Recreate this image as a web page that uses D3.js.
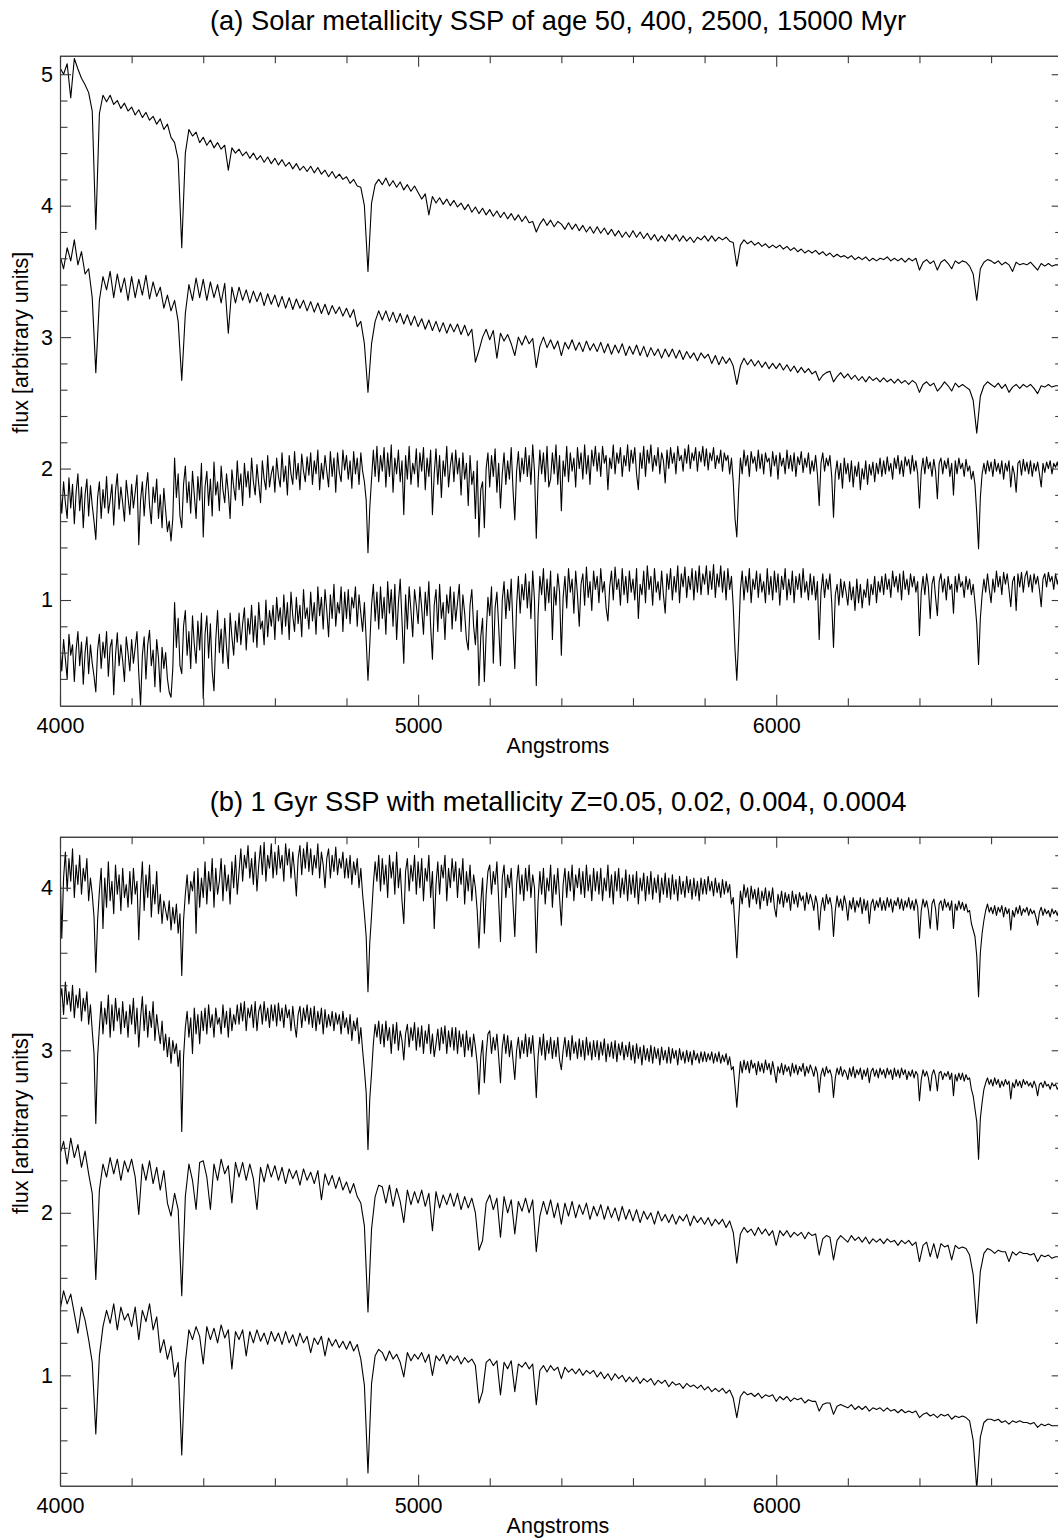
<!DOCTYPE html>
<html>
<head>
<meta charset="utf-8">
<script src="https://cdn.jsdelivr.net/npm/d3@7"></script>
<style>
  body { margin: 0; background: #fff; }
  text { font-family: "Liberation Sans", Arial, Helvetica, sans-serif; }
</style>
</head>
<body>
<div id="chart"></div>
<script>
// spectra; smooth ones every 10 A (one row = 100 A),
// the noisy ones every 5 A (one row = 100 A, 20 values)

// panel (a): solar metallicity, ages 50, 400, 2500, 15000 Myr
const fluxAge50 = [
  5.05, 5.00, 5.08, 4.82, 5.12, 5.04, 4.97, 4.92, 4.86, 4.72,
  3.82, 4.70, 4.84, 4.79, 4.84, 4.77, 4.80, 4.74, 4.78, 4.72,
  4.75, 4.69, 4.73, 4.67, 4.71, 4.65, 4.68, 4.62, 4.66, 4.58,
  4.62, 4.52, 4.48, 4.35, 3.68, 4.40, 4.58, 4.53, 4.56, 4.48,
  4.52, 4.46, 4.50, 4.44, 4.48, 4.43, 4.46, 4.27, 4.44, 4.40,
  4.43, 4.38, 4.41, 4.36, 4.40, 4.35, 4.38, 4.33, 4.37, 4.32,
  4.36, 4.31, 4.35, 4.30, 4.33, 4.28, 4.32, 4.27, 4.30, 4.26,
  4.30, 4.25, 4.29, 4.24, 4.27, 4.22, 4.26, 4.21, 4.24, 4.20,
  4.22, 4.17, 4.20, 4.15, 4.14, 4.00, 3.50, 4.02, 4.16, 4.20,
  4.16, 4.21, 4.15, 4.19, 4.14, 4.18, 4.12, 4.16, 4.11, 4.15,
  4.10, 4.05, 4.09, 3.93, 4.07, 4.02, 4.06, 4.01, 4.05, 4.00,
  4.04, 3.99, 4.02, 3.97, 4.01, 3.95, 3.99, 3.94, 3.98, 3.93,
  3.97, 3.92, 3.96, 3.91, 3.95, 3.90, 3.94, 3.89, 3.93, 3.88,
  3.92, 3.87, 3.88, 3.80, 3.86, 3.90, 3.85, 3.89, 3.84, 3.88,
  3.86, 3.82, 3.87, 3.82, 3.86, 3.81, 3.85, 3.80, 3.84, 3.79,
  3.84, 3.79, 3.83, 3.78, 3.82, 3.77, 3.81, 3.76, 3.80, 3.76,
  3.81, 3.76, 3.80, 3.75, 3.79, 3.74, 3.78, 3.73, 3.77, 3.73,
  3.78, 3.74, 3.78, 3.73, 3.77, 3.73, 3.76, 3.72, 3.76, 3.74,
  3.77, 3.73, 3.77, 3.73, 3.76, 3.74, 3.76, 3.73, 3.72, 3.54,
  3.70, 3.74, 3.71, 3.73, 3.70, 3.72, 3.69, 3.71, 3.68, 3.70,
  3.68, 3.70, 3.67, 3.69, 3.66, 3.68, 3.65, 3.67, 3.64, 3.66,
  3.64, 3.66, 3.63, 3.65, 3.62, 3.64, 3.61, 3.63, 3.61, 3.62,
  3.60, 3.62, 3.59, 3.61, 3.59, 3.61, 3.58, 3.60, 3.58, 3.60,
  3.59, 3.61, 3.58, 3.60, 3.58, 3.60, 3.57, 3.60, 3.58, 3.60,
  3.51, 3.57, 3.59, 3.56, 3.58, 3.51, 3.57, 3.59, 3.56, 3.52,
  3.58, 3.56, 3.58, 3.57, 3.54, 3.48, 3.28, 3.52, 3.57, 3.59,
  3.58, 3.56, 3.58, 3.55, 3.57, 3.55, 3.50, 3.57, 3.55, 3.56,
  3.55, 3.57, 3.54, 3.51, 3.56, 3.54, 3.56, 3.54, 3.55, 3.55
];

const fluxAge400 = [
  3.62, 3.52, 3.68, 3.58, 3.74, 3.55, 3.65, 3.48, 3.52, 3.30,
  2.73, 3.28, 3.46, 3.36, 3.50, 3.30, 3.48, 3.34, 3.45, 3.28,
  3.46, 3.30, 3.44, 3.32, 3.47, 3.29, 3.42, 3.31, 3.38, 3.22,
  3.32, 3.20, 3.28, 3.12, 2.67, 3.18, 3.40, 3.28, 3.45, 3.30,
  3.44, 3.28, 3.42, 3.30, 3.40, 3.26, 3.41, 3.03, 3.38, 3.26,
  3.38, 3.28, 3.36, 3.26, 3.35, 3.27, 3.34, 3.24, 3.33, 3.25,
  3.32, 3.23, 3.31, 3.22, 3.30, 3.21, 3.29, 3.22, 3.28, 3.20,
  3.27, 3.19, 3.26, 3.18, 3.25, 3.17, 3.24, 3.18, 3.23, 3.16,
  3.22, 3.15, 3.21, 3.08, 3.12, 2.95, 2.58, 2.95, 3.12, 3.20,
  3.13, 3.20, 3.12, 3.19, 3.11, 3.18, 3.10, 3.17, 3.09, 3.16,
  3.08, 3.14, 3.06, 3.13, 3.05, 3.12, 3.04, 3.11, 3.03, 3.10,
  3.04, 3.10, 3.02, 3.09, 3.01, 3.06, 2.81, 2.90, 3.00, 3.06,
  2.98, 3.05, 2.84, 3.03, 2.97, 3.02, 2.95, 2.86, 3.00, 2.94,
  3.01, 2.95, 2.99, 2.77, 2.93, 3.00, 2.92, 2.98, 2.91, 2.97,
  2.86, 2.96, 2.91, 2.98, 2.90, 2.96, 2.89, 2.97, 2.90, 2.95,
  2.89, 2.96, 2.88, 2.95, 2.87, 2.94, 2.88, 2.95, 2.86, 2.93,
  2.87, 2.94, 2.86, 2.93, 2.85, 2.92, 2.86, 2.91, 2.84, 2.91,
  2.85, 2.91, 2.84, 2.90, 2.83, 2.89, 2.84, 2.88, 2.82, 2.88,
  2.84, 2.87, 2.80, 2.86, 2.79, 2.85, 2.80, 2.84, 2.78, 2.64,
  2.78, 2.84, 2.79, 2.83, 2.78, 2.82, 2.77, 2.81, 2.76, 2.80,
  2.76, 2.80, 2.75, 2.79, 2.74, 2.78, 2.73, 2.77, 2.73, 2.76,
  2.72, 2.74, 2.67, 2.71, 2.73, 2.74, 2.66, 2.70, 2.73, 2.69,
  2.72, 2.68, 2.71, 2.67, 2.70, 2.66, 2.70, 2.67, 2.69, 2.66,
  2.69, 2.66, 2.68, 2.65, 2.68, 2.65, 2.67, 2.64, 2.67, 2.65,
  2.58, 2.64, 2.66, 2.63, 2.65, 2.59, 2.62, 2.66, 2.63, 2.59,
  2.65, 2.62, 2.64, 2.62, 2.60, 2.52, 2.27, 2.55, 2.63, 2.66,
  2.64, 2.62, 2.65, 2.61, 2.64, 2.58, 2.62, 2.64, 2.61, 2.64,
  2.62, 2.64, 2.61, 2.57, 2.63, 2.62, 2.64, 2.62, 2.63, 2.63
];

const fluxAge2500 = [
  1.84, 1.66, 1.90, 1.74, 1.62, 1.93, 1.70, 1.88, 1.58, 1.82, 1.96, 1.68, 1.86, 1.55, 1.80, 1.92, 1.64, 1.87, 1.72, 1.60,
  1.46, 1.78, 1.90, 1.62, 1.84, 1.70, 1.94, 1.66, 1.76, 1.88, 1.57, 1.83, 1.96, 1.69, 1.86, 1.74, 1.60, 1.91, 1.78, 1.65,
  1.88, 1.70, 1.82, 1.95, 1.42, 1.76, 1.90, 1.64, 1.84, 1.97, 1.72, 1.58, 1.86, 1.74, 1.92, 1.62, 1.80, 1.55, 1.85, 1.68,
  1.52, 1.60, 1.45, 1.62, 2.08, 1.78, 1.96, 1.64, 1.55, 1.88, 2.02, 1.74, 1.90, 1.66, 1.98, 1.80, 1.62, 1.94, 1.76, 2.04,
  1.48, 1.86, 1.98, 1.72, 1.92, 1.64, 2.05, 1.80, 1.90, 1.68, 2.02, 1.84, 1.74, 1.96, 1.82, 1.62, 1.99, 1.86, 1.76, 2.06,
  1.84, 1.96, 1.72, 2.04, 1.86, 1.98, 1.78, 2.08, 1.90, 1.80, 2.03, 1.88, 1.74, 2.06, 1.92, 1.84, 2.10, 1.86, 1.96, 2.02,
  1.82, 2.08, 1.94, 1.86, 2.12, 1.90, 2.02, 1.80, 2.10, 1.96, 1.88, 2.13, 1.92, 2.04, 1.84, 2.11, 1.98, 1.90, 2.09, 1.95,
  2.12, 1.88, 2.06, 1.96, 2.14, 1.84, 2.04, 1.92, 2.10, 1.98, 1.86, 2.13, 1.94, 2.08, 1.82, 2.12, 1.97, 1.90, 2.14, 1.99,
  2.10, 1.92, 2.06, 1.85, 2.13, 1.96, 2.08, 1.88, 2.12, 1.98, 1.90, 1.76, 1.36, 1.70, 1.92, 2.14, 1.94, 2.17, 1.90, 2.10,
  1.98, 2.16, 1.86, 2.12, 1.94, 2.18, 1.82, 2.08, 1.96, 2.14, 1.90, 2.06, 1.65, 2.10, 1.92, 2.17, 1.88, 2.04, 1.96, 2.15,
  1.86, 2.12, 1.98, 2.16, 1.84, 2.08, 1.94, 2.14, 1.65, 1.96, 2.15, 1.88, 2.10, 1.78, 2.06, 1.94, 2.17, 1.86, 2.02, 2.12,
  1.90, 2.14, 1.96, 2.08, 1.80, 2.12, 1.92, 2.04, 1.72, 2.10, 1.88, 1.98, 1.62, 2.06, 1.48, 1.84, 1.90, 1.55, 2.00, 2.12,
  1.86, 2.10, 1.94, 2.15, 1.82, 2.04, 1.70, 1.96, 2.12, 1.88, 2.06, 1.92, 2.16, 1.84, 1.61, 1.98, 2.13, 1.90, 2.08, 1.96,
  2.16, 1.94, 2.10, 1.88, 2.18, 1.98, 1.47, 1.90, 2.14, 1.96, 2.12, 1.90, 2.17, 1.86, 1.92, 2.12, 1.96, 2.18, 1.88, 2.10,
  1.68, 2.06, 1.94, 2.17, 1.90, 2.12, 1.98, 2.08, 1.86, 2.16, 2.00, 2.12, 1.92, 2.18, 1.96, 2.10, 1.88, 2.14, 2.02, 2.17,
  1.98, 2.12, 1.94, 2.17, 2.04, 2.10, 1.84, 2.08, 2.00, 2.18, 1.96, 2.12, 2.04, 2.16, 1.94, 2.10, 2.02, 2.18, 1.98, 2.14,
  2.04, 2.16, 1.96, 1.84, 2.12, 2.00, 2.17, 1.94, 2.14, 2.04, 2.18, 1.98, 2.10, 2.02, 2.16, 1.96, 2.12, 2.06, 1.89, 2.14,
  2.00, 2.16, 2.04, 2.12, 1.96, 2.17, 2.06, 2.10, 1.98, 2.15, 2.04, 2.18, 2.00, 2.12, 2.06, 2.16, 1.98, 2.13, 2.05, 2.17,
  2.02, 2.15, 1.99, 2.12, 2.06, 2.16, 2.00, 2.10, 2.04, 2.14, 1.98, 2.12, 2.06, 2.10, 1.96, 2.08, 1.90, 1.62, 1.48, 1.82,
  2.08, 1.96, 2.14, 2.02, 2.10, 1.94, 2.13, 2.04, 2.09, 1.98, 2.14, 2.00, 2.11, 1.96, 2.12, 2.05, 2.08, 1.94, 2.13, 2.02,
  2.10, 1.92, 2.12, 2.02, 2.08, 1.96, 2.14, 2.00, 2.10, 1.98, 2.12, 1.94, 2.09, 2.03, 2.13, 1.97, 2.08, 2.01, 2.12, 1.96,
  2.06, 1.98, 2.10, 1.96, 1.72, 2.04, 2.12, 1.98, 2.08, 2.02, 2.10, 1.94, 1.63, 1.96, 2.06, 1.92, 2.04, 1.85, 2.08, 1.96,
  2.04, 1.90, 2.06, 1.86, 2.02, 1.94, 2.05, 1.84, 2.00, 1.92, 2.06, 1.88, 2.03, 1.95, 2.05, 1.90, 2.04, 1.96, 2.08, 1.94,
  2.06, 1.96, 2.09, 1.98, 2.04, 1.92, 2.08, 2.00, 2.10, 1.96, 2.06, 1.94, 2.09, 2.02, 2.07, 1.96, 2.10, 1.98, 2.06, 1.96,
  1.70, 1.98, 2.08, 1.96, 2.09, 2.00, 2.05, 1.94, 2.07, 1.98, 1.77, 2.04, 2.08, 1.96, 2.06, 2.00, 2.08, 1.94, 2.04, 1.80,
  2.06, 1.96, 2.08, 2.00, 2.04, 1.94, 2.07, 1.98, 2.02, 1.92, 1.98, 1.88, 1.66, 1.39, 1.78, 1.96, 2.04, 1.96, 2.06, 1.98,
  2.05, 1.94, 2.07, 1.98, 2.04, 1.96, 2.06, 1.92, 2.04, 1.98, 2.06, 1.86, 2.02, 1.96, 1.82, 2.04, 2.06, 1.95, 2.07, 1.98,
  2.05, 1.96, 2.06, 1.94, 2.04, 1.98, 2.05, 1.96, 1.86, 2.04, 1.97, 2.05, 2.00, 2.06, 1.96, 2.04, 2.01, 2.05, 1.98, 2.03
];

const fluxAge15000 = [
  0.64, 0.46, 0.70, 0.55, 0.40, 0.74, 0.58, 0.66, 0.38, 0.62, 0.76, 0.50, 0.68, 0.36, 0.60, 0.72, 0.44, 0.66, 0.52, 0.42,
  0.30, 0.62, 0.74, 0.48, 0.68, 0.56, 0.76, 0.42, 0.64, 0.70, 0.28, 0.58, 0.75, 0.50, 0.66, 0.54, 0.38, 0.72, 0.60, 0.46,
  0.70, 0.52, 0.64, 0.76, 0.44, 0.20, 0.58, 0.72, 0.40, 0.66, 0.77, 0.50, 0.62, 0.34, 0.70, 0.56, 0.30, 0.64, 0.48, 0.60,
  0.40, 0.30, 0.26, 0.48, 0.98, 0.64, 0.86, 0.50, 0.44, 0.80, 0.92, 0.58, 0.76, 0.48, 0.88, 0.66, 0.52, 0.84, 0.62, 0.90,
  0.25, 0.74, 0.88, 0.56, 0.82, 0.46, 0.31, 0.70, 0.92, 0.60, 0.78, 0.52, 0.86, 0.64, 0.48, 0.90, 0.72, 0.58, 0.84, 0.68,
  0.90, 0.66, 0.82, 0.94, 0.62, 0.86, 0.74, 0.96, 0.68, 0.88, 0.64, 0.98, 0.78, 0.84, 0.66, 1.00, 0.72, 0.92, 0.80, 0.96,
  0.70, 1.02, 0.84, 0.94, 0.74, 1.04, 0.80, 0.98, 0.70, 1.06, 0.88, 0.76, 1.02, 0.82, 0.96, 0.72, 1.08, 0.86, 0.94, 0.78,
  1.06, 0.84, 0.98, 0.74, 1.10, 0.88, 1.02, 0.78, 1.08, 0.92, 0.72, 1.04, 0.86, 1.12, 0.80, 0.98, 0.90, 1.10, 0.76, 1.06,
  0.86, 1.08, 0.82, 1.02, 0.94, 1.10, 0.80, 1.04, 0.90, 0.76, 0.98, 0.70, 0.39, 0.66, 0.96, 1.12, 0.84, 1.06, 0.78, 1.10,
  0.86, 1.02, 0.74, 1.14, 0.90, 1.08, 0.80, 1.12, 0.70, 0.98, 1.16, 0.84, 0.52, 1.04, 0.78, 1.10, 0.92, 0.72, 1.08, 0.96,
  0.82, 1.10, 0.94, 0.74, 1.06, 0.88, 1.14, 0.80, 0.55, 0.96, 1.08, 0.76, 1.12, 0.86, 0.98, 0.70, 1.04, 0.90, 1.10, 0.78,
  1.06, 0.84, 0.98, 1.12, 0.76, 1.04, 0.90, 0.70, 0.62, 0.96, 1.08, 0.80, 0.66, 0.92, 0.35, 0.72, 0.86, 0.38, 0.74, 1.02,
  0.88, 1.10, 0.52, 0.94, 1.06, 0.80, 0.50, 1.00, 1.14, 0.86, 1.08, 0.92, 1.16, 0.78, 0.48, 0.96, 1.18, 0.90, 1.12, 1.00,
  1.20, 0.94, 1.14, 0.86, 1.22, 1.00, 0.35, 0.88, 1.18, 1.04, 1.24, 0.92, 1.16, 0.98, 1.22, 0.70, 1.10, 0.96, 1.20, 1.06,
  0.58, 1.02, 1.18, 0.94, 1.24, 1.06, 1.16, 0.90, 1.22, 1.04, 0.80, 1.12, 1.20, 0.96, 1.25, 1.02, 1.14, 0.92, 1.22, 1.08,
  1.18, 0.98, 1.24, 1.06, 1.14, 0.94, 0.84, 1.10, 1.22, 1.00, 1.25, 1.08, 1.16, 0.96, 1.24, 1.04, 1.18, 0.98, 1.22, 1.06,
  1.16, 1.00, 1.24, 0.86, 1.12, 1.04, 1.22, 0.98, 1.26, 1.08, 1.18, 0.96, 1.24, 1.06, 1.14, 1.00, 1.22, 1.04, 0.90, 1.20,
  1.08, 1.24, 1.00, 1.18, 1.06, 1.26, 0.98, 1.20, 1.10, 1.25, 1.02, 1.18, 1.08, 1.24, 1.00, 1.22, 1.06, 1.26, 1.04, 1.20,
  1.12, 1.26, 1.04, 1.22, 1.08, 1.27, 1.02, 1.20, 1.10, 1.26, 1.06, 1.22, 1.00, 1.24, 1.08, 1.18, 0.95, 0.62, 0.39, 0.70,
  1.08, 1.22, 1.00, 1.18, 1.06, 1.24, 0.98, 1.16, 1.08, 1.22, 1.02, 1.20, 1.06, 1.14, 0.98, 1.24, 1.04, 1.18, 1.00, 1.22,
  1.06, 1.20, 0.96, 1.18, 1.08, 1.24, 1.00, 1.16, 1.04, 1.22, 0.98, 1.18, 1.08, 1.20, 1.02, 1.24, 1.06, 1.14, 1.00, 1.20,
  1.04, 1.18, 1.00, 1.14, 0.70, 1.06, 1.20, 1.02, 1.16, 1.08, 1.20, 0.98, 0.64, 1.04, 1.12, 0.96, 1.16, 1.02, 1.14, 1.06,
  0.96, 1.14, 1.00, 1.10, 0.92, 1.16, 0.98, 1.12, 0.94, 1.08, 1.02, 1.16, 0.96, 1.12, 1.04, 1.18, 0.98, 1.14, 1.06, 1.18,
  1.04, 1.20, 1.08, 1.16, 1.02, 1.22, 1.10, 1.18, 1.06, 1.20, 1.00, 1.22, 1.08, 1.16, 1.04, 1.20, 1.10, 1.18, 1.06, 1.14,
  0.73, 1.06, 1.18, 1.04, 1.20, 1.10, 0.86, 1.12, 1.18, 1.02, 0.88, 1.14, 1.20, 1.06, 1.16, 1.00, 1.18, 1.08, 1.12, 0.90,
  1.18, 1.06, 1.20, 1.10, 1.14, 1.02, 1.18, 1.08, 1.16, 1.04, 1.12, 0.98, 0.82, 0.51, 0.86, 1.04, 1.16, 1.06, 1.20, 1.08,
  0.98, 1.16, 1.06, 1.22, 1.10, 1.18, 1.04, 1.21, 1.12, 1.20, 1.08, 0.95, 1.14, 1.18, 0.92, 1.20, 1.10, 1.21, 1.06, 1.18,
  1.22, 1.10, 1.19, 1.06, 1.20, 1.12, 1.18, 1.08, 0.95, 1.16, 1.20, 1.10, 1.21, 1.14, 1.18, 1.08, 1.20, 1.12, 1.19, 1.16
];

// panel (b): 1 Gyr, metallicity Z = 0.05, 0.02, 0.004, 0.0004
const fluxZ05 = [
  4.16, 3.69, 4.06, 4.22, 3.98, 4.18, 4.04, 4.24, 3.94, 4.14, 4.02, 4.20, 3.96, 4.12, 4.04, 4.18, 3.92, 4.06, 3.96, 3.82,
  3.48, 3.80, 3.98, 4.12, 3.75, 4.06, 3.88, 4.16, 3.92, 4.04, 3.84, 4.14, 3.96, 4.08, 3.86, 4.12, 3.94, 4.02, 3.88, 4.10,
  3.90, 4.12, 3.96, 4.04, 3.68, 3.98, 4.16, 3.86, 4.08, 3.94, 4.14, 3.82, 4.02, 3.90, 4.10, 3.84, 3.96, 3.78, 3.92, 3.86,
  3.80, 3.92, 3.74, 3.88, 3.78, 3.90, 3.72, 3.84, 3.46, 3.80, 3.96, 4.08, 3.90, 4.04, 3.98, 4.10, 3.72, 4.12, 3.88, 4.06,
  3.94, 4.16, 3.90, 4.10, 3.98, 4.18, 3.88, 4.12, 3.96, 4.04, 4.18, 3.92, 4.14, 3.98, 4.08, 3.90, 4.16, 4.00, 4.20, 3.96,
  4.10, 4.24, 4.04, 4.20, 4.12, 4.26, 4.06, 4.18, 4.02, 4.22, 3.98, 4.14, 4.26, 4.08, 4.28, 4.04, 4.20, 4.12, 4.27, 4.06,
  4.22, 4.08, 4.26, 4.12, 4.20, 4.04, 4.27, 4.14, 4.24, 4.06, 4.22, 4.10, 3.95, 4.18, 4.26, 4.08, 4.24, 4.12, 4.28, 4.10,
  4.24, 4.08, 4.20, 4.12, 4.27, 4.06, 4.22, 4.14, 4.00, 4.18, 4.24, 4.06, 4.20, 4.10, 4.25, 4.08, 4.18, 4.12, 4.22, 4.06,
  4.18, 4.06, 4.20, 4.02, 4.16, 4.08, 4.18, 4.00, 4.12, 3.96, 3.84, 3.70, 3.36, 3.66, 3.83, 4.02, 4.16, 4.04, 4.20, 3.98,
  4.18, 4.02, 4.14, 3.94, 4.20, 4.06, 4.16, 3.96, 4.22, 4.00, 4.12, 3.92, 3.78, 4.10, 4.18, 3.98, 4.14, 4.04, 4.20, 3.96,
  4.16, 4.00, 4.18, 3.92, 4.12, 4.04, 4.20, 3.94, 4.10, 3.75, 4.02, 4.16, 3.96, 4.14, 4.06, 4.20, 3.92, 4.12, 4.00, 4.18,
  4.04, 4.16, 3.94, 4.12, 4.02, 4.18, 3.90, 4.10, 3.98, 4.14, 3.92, 4.08, 4.00, 3.86, 3.63, 3.90, 4.06, 3.72, 3.96, 4.10,
  4.14, 3.96, 4.10, 4.02, 4.16, 3.92, 3.67, 4.06, 4.14, 3.94, 4.08, 4.00, 4.12, 3.90, 3.70, 4.02, 4.14, 3.96, 4.08, 3.92,
  4.12, 3.98, 4.14, 3.94, 4.08, 4.00, 3.60, 3.92, 4.10, 3.96, 4.12, 3.90, 4.06, 3.98, 4.14, 3.88, 4.08, 3.96, 4.12, 3.94,
  3.77, 4.02, 4.12, 3.94, 4.10, 3.98, 4.14, 3.92, 4.08, 4.00, 4.12, 3.96, 4.10, 3.94, 4.14, 3.98, 4.08, 3.92, 4.12, 3.98,
  4.10, 3.96, 4.12, 3.92, 4.06, 3.98, 4.14, 3.94, 4.08, 3.90, 4.10, 3.98, 4.12, 3.94, 4.06, 3.96, 4.11, 3.92, 4.08, 3.96,
  4.08, 3.94, 4.10, 3.90, 4.06, 3.98, 4.09, 3.92, 4.07, 3.96, 4.10, 3.93, 4.06, 3.97, 4.08, 3.91, 4.06, 3.96, 4.09, 3.94,
  4.06, 3.93, 4.08, 3.96, 4.05, 3.92, 4.07, 3.96, 4.04, 3.94, 4.07, 3.97, 4.05, 3.93, 4.06, 3.95, 4.04, 3.92, 4.06, 3.96,
  4.05, 3.96, 4.07, 3.98, 4.04, 3.95, 4.06, 3.97, 4.03, 3.94, 4.05, 3.96, 4.04, 3.97, 4.02, 3.90, 3.94, 3.76, 3.57, 3.80,
  3.98, 3.90, 4.02, 3.94, 4.00, 3.88, 4.01, 3.93, 3.99, 3.90, 4.00, 3.87, 3.98, 3.92, 4.00, 3.89, 3.98, 3.91, 4.00, 3.88,
  3.82, 3.96, 3.90, 3.98, 3.88, 3.97, 3.91, 3.96, 3.86, 3.98, 3.90, 3.96, 3.88, 3.97, 3.92, 3.95, 3.86, 3.97, 3.90, 3.96,
  3.92, 3.86, 3.95, 3.90, 3.74, 3.88, 3.94, 3.86, 3.96, 3.90, 3.94, 3.88, 3.70, 3.86, 3.95, 3.88, 3.93, 3.86, 3.95, 3.90,
  3.80, 3.92, 3.87, 3.94, 3.85, 3.92, 3.88, 3.94, 3.84, 3.93, 3.86, 3.92, 3.78, 3.90, 3.93, 3.86, 3.92, 3.88, 3.94, 3.86,
  3.92, 3.86, 3.94, 3.88, 3.93, 3.85, 3.92, 3.89, 3.94, 3.87, 3.93, 3.86, 3.92, 3.88, 3.94, 3.87, 3.92, 3.86, 3.93, 3.88,
  3.69, 3.86, 3.93, 3.88, 3.92, 3.86, 3.75, 3.90, 3.93, 3.87, 3.74, 3.90, 3.92, 3.86, 3.93, 3.88, 3.91, 3.86, 3.92, 3.75,
  3.90, 3.86, 3.92, 3.87, 3.91, 3.86, 3.90, 3.85, 3.86, 3.78, 3.74, 3.70, 3.58, 3.33, 3.60, 3.72, 3.80, 3.86, 3.90, 3.85,
  3.88, 3.84, 3.89, 3.83, 3.88, 3.85, 3.89, 3.82, 3.88, 3.84, 3.87, 3.74, 3.86, 3.82, 3.88, 3.84, 3.89, 3.83, 3.87, 3.85,
  3.88, 3.83, 3.87, 3.84, 3.86, 3.82, 3.77, 3.85, 3.88, 3.83, 3.87, 3.84, 3.86, 3.82, 3.87, 3.84, 3.86, 3.83, 3.87, 3.86
];

const fluxZ02 = [
  3.30, 3.38, 3.22, 3.42, 3.28, 3.36, 3.24, 3.40, 3.20, 3.34, 3.26, 3.38, 3.18, 3.32, 3.24, 3.36, 3.16, 3.28, 3.12, 2.98,
  2.55, 2.96, 3.14, 3.30, 3.10, 3.26, 3.16, 3.34, 3.08, 3.28, 3.12, 3.32, 3.18, 3.26, 3.10, 3.30, 3.14, 3.24, 3.08, 3.28,
  3.16, 3.32, 3.10, 3.26, 3.02, 3.20, 3.33, 3.12, 3.28, 3.08, 3.24, 3.14, 3.30, 3.06, 3.22, 3.12, 3.04, 3.18, 3.00, 3.10,
  2.96, 3.08, 2.92, 3.06, 2.98, 3.04, 2.90, 3.00, 2.50, 2.96, 3.14, 3.24, 3.08, 3.20, 2.98, 3.26, 3.10, 3.22, 3.04, 3.24,
  3.12, 3.26, 3.10, 3.28, 3.14, 3.22, 3.08, 3.26, 3.16, 3.20, 3.10, 3.28, 3.14, 3.24, 3.08, 3.26, 3.12, 3.22, 3.16, 3.28,
  3.16, 3.29, 3.18, 3.30, 3.12, 3.26, 3.20, 3.28, 3.14, 3.30, 3.12, 3.24, 3.28, 3.16, 3.30, 3.18, 3.26, 3.14, 3.28, 3.18,
  3.28, 3.15, 3.29, 3.18, 3.26, 3.14, 3.28, 3.20, 3.25, 3.12, 3.27, 3.16, 3.08, 3.22, 3.27, 3.14, 3.26, 3.18, 3.28, 3.16,
  3.26, 3.14, 3.27, 3.12, 3.24, 3.16, 3.26, 3.10, 3.25, 3.14, 3.22, 3.15, 3.24, 3.12, 3.23, 3.16, 3.22, 3.10, 3.24, 3.14,
  3.20, 3.10, 3.22, 3.06, 3.18, 3.12, 3.20, 3.04, 3.14, 3.00, 2.88, 2.74, 2.39, 2.70, 2.86, 3.04, 3.16, 3.08, 3.18, 3.04,
  3.16, 3.02, 3.18, 3.06, 3.14, 2.98, 3.16, 3.04, 3.17, 3.00, 3.12, 3.06, 2.94, 3.10, 3.16, 3.02, 3.14, 3.06, 3.17, 3.00,
  3.14, 3.02, 3.15, 2.98, 3.12, 3.04, 3.16, 2.98, 3.10, 2.96, 3.04, 3.13, 3.00, 3.14, 3.04, 3.15, 2.98, 3.12, 3.02, 3.14,
  3.00, 3.14, 2.98, 3.12, 3.02, 3.10, 2.96, 3.12, 3.00, 3.08, 2.96, 3.10, 3.02, 2.92, 2.73, 2.96, 3.06, 2.80, 2.98, 3.10,
  3.12, 2.98, 3.08, 3.00, 3.10, 2.96, 2.80, 3.02, 3.10, 2.98, 3.09, 2.96, 3.06, 2.94, 2.82, 3.00, 3.08, 2.95, 3.06, 2.98,
  3.10, 2.96, 3.08, 2.98, 3.09, 2.94, 2.71, 2.96, 3.08, 2.97, 3.10, 2.94, 3.06, 2.98, 3.08, 2.95, 3.06, 2.96, 3.08, 2.94,
  2.88, 3.00, 3.08, 2.96, 3.06, 2.94, 3.09, 2.98, 3.05, 2.95, 3.07, 2.96, 3.06, 2.94, 3.08, 2.97, 3.05, 2.94, 3.06, 2.96,
  3.06, 2.94, 3.05, 2.97, 3.07, 2.93, 3.04, 2.96, 3.05, 2.95, 3.06, 2.93, 3.04, 2.97, 3.05, 2.94, 3.03, 2.96, 3.05, 2.94,
  3.03, 2.92, 3.04, 2.95, 3.02, 2.91, 3.03, 2.94, 3.01, 2.93, 3.03, 2.92, 3.02, 2.95, 3.01, 2.91, 3.02, 2.94, 3.00, 2.92,
  3.02, 2.92, 3.01, 2.95, 3.00, 2.91, 3.01, 2.94, 2.99, 2.92, 3.00, 2.93, 2.99, 2.91, 3.00, 2.94, 2.98, 2.92, 2.99, 2.93,
  2.99, 2.93, 2.98, 2.94, 2.99, 2.92, 2.98, 2.93, 2.99, 2.92, 2.97, 2.93, 2.98, 2.91, 2.96, 2.88, 2.90, 2.78, 2.65, 2.80,
  2.93, 2.86, 2.94, 2.88, 2.93, 2.86, 2.94, 2.89, 2.92, 2.85, 2.93, 2.87, 2.92, 2.86, 2.94, 2.88, 2.92, 2.85, 2.93, 2.87,
  2.80, 2.90, 2.86, 2.92, 2.85, 2.91, 2.87, 2.90, 2.84, 2.92, 2.86, 2.91, 2.85, 2.90, 2.87, 2.92, 2.84, 2.90, 2.86, 2.91,
  2.88, 2.84, 2.90, 2.86, 2.74, 2.85, 2.89, 2.84, 2.90, 2.86, 2.88, 2.84, 2.71, 2.83, 2.89, 2.85, 2.90, 2.84, 2.88, 2.86,
  2.82, 2.89, 2.84, 2.90, 2.83, 2.88, 2.85, 2.89, 2.82, 2.88, 2.84, 2.89, 2.80, 2.87, 2.89, 2.84, 2.88, 2.83, 2.89, 2.85,
  2.88, 2.83, 2.89, 2.85, 2.88, 2.82, 2.89, 2.84, 2.88, 2.83, 2.89, 2.85, 2.88, 2.82, 2.87, 2.84, 2.88, 2.83, 2.87, 2.85,
  2.69, 2.82, 2.88, 2.84, 2.87, 2.83, 2.75, 2.85, 2.88, 2.84, 2.75, 2.86, 2.87, 2.82, 2.86, 2.84, 2.87, 2.82, 2.86, 2.72,
  2.85, 2.81, 2.86, 2.82, 2.86, 2.81, 2.85, 2.82, 2.83, 2.76, 2.72, 2.64, 2.56, 2.33, 2.58, 2.68, 2.76, 2.80, 2.83, 2.79,
  2.82, 2.78, 2.83, 2.79, 2.82, 2.77, 2.81, 2.78, 2.82, 2.79, 2.81, 2.70, 2.80, 2.77, 2.82, 2.78, 2.81, 2.77, 2.82, 2.79,
  2.81, 2.78, 2.80, 2.77, 2.81, 2.78, 2.72, 2.79, 2.80, 2.77, 2.81, 2.78, 2.79, 2.76, 2.80, 2.78, 2.79, 2.76, 2.78, 2.77
];

const fluxZ004 = [
  2.36, 2.44, 2.30, 2.46, 2.34, 2.42, 2.28, 2.38, 2.24, 2.12,
  1.59, 2.14, 2.30, 2.22, 2.34, 2.24, 2.33, 2.20, 2.32, 2.25,
  2.33, 2.22, 1.99, 2.30, 2.20, 2.32, 2.18, 2.28, 2.14, 2.26,
  2.06, 1.98, 2.12, 2.02, 1.49, 2.10, 2.30, 2.20, 2.02, 2.31,
  2.32, 2.22, 2.02, 2.30, 2.20, 2.33, 2.24, 2.29, 2.06, 2.31,
  2.22, 2.31, 2.20, 2.30, 2.21, 2.02, 2.28, 2.19, 2.30, 2.22,
  2.29, 2.20, 2.28, 2.18, 2.27, 2.21, 2.26, 2.17, 2.27, 2.20,
  2.25, 2.18, 2.26, 2.08, 2.24, 2.17, 2.23, 2.15, 2.22, 2.14,
  2.19, 2.12, 2.18, 2.10, 2.06, 1.92, 1.39, 1.90, 2.10, 2.17,
  2.16, 2.06, 2.17, 2.04, 2.15, 2.07, 1.94, 2.14, 2.05, 2.13,
  2.06, 2.14, 2.04, 2.12, 1.89, 2.13, 2.03, 2.11, 2.05, 2.12,
  2.04, 2.12, 2.02, 2.10, 2.03, 2.09, 2.00, 1.77, 1.83, 2.06,
  2.11, 2.02, 2.09, 1.85, 2.10, 2.00, 2.08, 1.87, 2.07, 2.01,
  2.09, 2.00, 2.08, 1.76, 1.98, 2.07, 1.99, 2.08, 1.97, 2.06,
  1.93, 2.06, 1.98, 2.07, 1.97, 2.05, 1.99, 2.06, 1.96, 2.04,
  1.98, 2.05, 1.96, 2.04, 1.97, 2.03, 1.95, 2.04, 1.96, 2.02,
  1.95, 2.02, 1.94, 2.01, 1.96, 2.00, 1.93, 2.01, 1.95, 1.99,
  1.94, 1.99, 1.93, 1.98, 1.95, 1.99, 1.92, 1.98, 1.94, 1.97,
  1.93, 1.97, 1.92, 1.96, 1.93, 1.96, 1.91, 1.95, 1.88, 1.69,
  1.87, 1.91, 1.88, 1.90, 1.86, 1.91, 1.87, 1.90, 1.86, 1.89,
  1.80, 1.89, 1.86, 1.89, 1.85, 1.88, 1.86, 1.88, 1.84, 1.88,
  1.86, 1.87, 1.74, 1.84, 1.86, 1.85, 1.71, 1.83, 1.86, 1.84,
  1.82, 1.86, 1.83, 1.85, 1.82, 1.85, 1.81, 1.84, 1.82, 1.84,
  1.81, 1.84, 1.82, 1.83, 1.80, 1.83, 1.81, 1.83, 1.80, 1.82,
  1.70, 1.80, 1.82, 1.73, 1.81, 1.72, 1.81, 1.79, 1.80, 1.71,
  1.80, 1.78, 1.79, 1.78, 1.74, 1.62, 1.32, 1.64, 1.75, 1.78,
  1.77, 1.75, 1.77, 1.76, 1.76, 1.70, 1.76, 1.74, 1.76, 1.75,
  1.75, 1.74, 1.75, 1.70, 1.74, 1.73, 1.74, 1.72, 1.73, 1.73
];

const fluxZ0004 = [
  1.40, 1.52, 1.44, 1.50, 1.38, 1.26, 1.42, 1.34, 1.22, 1.08,
  0.64, 1.12, 1.30, 1.40, 1.32, 1.44, 1.28, 1.42, 1.34, 1.38,
  1.30, 1.42, 1.22, 1.40, 1.33, 1.44, 1.28, 1.36, 1.14, 1.22,
  1.10, 1.18, 0.99, 1.08, 0.51, 1.08, 1.28, 1.22, 1.30, 1.24,
  1.07, 1.30, 1.22, 1.29, 1.20, 1.31, 1.23, 1.28, 1.04, 1.27,
  1.22, 1.28, 1.12, 1.27, 1.20, 1.28, 1.21, 1.26, 1.19, 1.27,
  1.21, 1.26, 1.19, 1.27, 1.20, 1.25, 1.18, 1.26, 1.20, 1.24,
  1.14, 1.23, 1.19, 1.24, 1.12, 1.23, 1.18, 1.22, 1.17, 1.21,
  1.16, 1.21, 1.15, 1.19, 1.10, 0.94, 0.40, 0.95, 1.12, 1.16,
  1.14, 1.09, 1.15, 1.10, 1.13, 1.08, 0.99, 1.14, 1.09, 1.13,
  1.10, 1.14, 1.08, 1.13, 1.00, 1.12, 1.09, 1.13, 1.07, 1.12,
  1.09, 1.12, 1.07, 1.11, 1.08, 1.10, 1.06, 0.83, 0.90, 1.08,
  1.10, 1.06, 1.09, 0.88, 1.08, 1.04, 1.09, 0.90, 1.07, 1.05,
  1.08, 1.04, 1.07, 0.82, 1.03, 1.06, 1.02, 1.06, 1.03, 1.05,
  0.98, 1.05, 1.02, 1.04, 1.01, 1.04, 1.00, 1.03, 1.01, 1.03,
  0.99, 1.02, 0.98, 1.01, 0.97, 1.01, 0.98, 1.00, 0.96, 0.99,
  0.96, 0.99, 0.95, 0.98, 0.96, 0.98, 0.94, 0.97, 0.95, 0.97,
  0.93, 0.96, 0.94, 0.95, 0.92, 0.95, 0.93, 0.94, 0.92, 0.94,
  0.91, 0.93, 0.90, 0.92, 0.90, 0.92, 0.89, 0.91, 0.86, 0.74,
  0.87, 0.90, 0.88, 0.89, 0.87, 0.89, 0.86, 0.88, 0.87, 0.88,
  0.84, 0.87, 0.85, 0.87, 0.84, 0.86, 0.85, 0.86, 0.83, 0.85,
  0.84, 0.84, 0.78, 0.82, 0.83, 0.83, 0.76, 0.81, 0.82, 0.81,
  0.80, 0.82, 0.79, 0.81, 0.79, 0.81, 0.78, 0.80, 0.79, 0.80,
  0.78, 0.80, 0.78, 0.79, 0.77, 0.79, 0.77, 0.78, 0.77, 0.78,
  0.74, 0.76, 0.77, 0.75, 0.76, 0.74, 0.76, 0.75, 0.76, 0.73,
  0.75, 0.74, 0.75, 0.74, 0.72, 0.60, 0.30, 0.62, 0.71, 0.73,
  0.73, 0.72, 0.73, 0.71, 0.72, 0.70, 0.72, 0.71, 0.72, 0.71,
  0.71, 0.70, 0.71, 0.68, 0.70, 0.69, 0.70, 0.69, 0.69, 0.69
];

// wavelength sampling of the arrays above
const wave10 = d3.range(4000, 6800, 10);
const wave5 = d3.range(4000, 6800, 5);

// tick values
const xMajor = [4000, 5000, 6000];
const xMinor = [4200, 4400, 4600, 4800, 5200, 5400, 5600, 5800, 6200, 6400, 6600];
const yMajorA = [1, 2, 3, 4, 5];
const yMinorA = [0.4, 0.6, 0.8, 1.2, 1.4, 1.6, 1.8, 2.2, 2.4, 2.6, 2.8, 3.2, 3.4, 3.6, 3.8, 4.2, 4.4, 4.6, 4.8];
const yMajorB = [1, 2, 3, 4];
const yMinorB = [0.4, 0.6, 0.8, 1.2, 1.4, 1.6, 1.8, 2.2, 2.4, 2.6, 2.8, 3.2, 3.4, 3.6, 3.8, 4.2];

const titleA = "(a) Solar metallicity SSP of age 50, 400, 2500, 15000 Myr";
const titleB = "(b) 1 Gyr SSP with metallicity Z=0.05, 0.02, 0.004, 0.0004";

const svg = d3.select("#chart").append("svg")
    .attr("width", 1058)
    .attr("height", 1539)
    .style("background", "#fff");

const left = 60, right = 1062.7;
const x = d3.scaleLinear().domain([4000, 6800]).range([left, right]);

const panels = [
    {id: "a", title: titleA, top: 55.7, bottom: 705.7, yDomain: [0.196, 5.141],
     yMajor: yMajorA, yMinor: yMinorA,
     series: [[wave10, fluxAge50], [wave10, fluxAge400], [wave5, fluxAge2500], [wave5, fluxAge15000]]},
    {id: "b", title: titleB, top: 836.7, bottom: 1485.7, yDomain: [0.321, 4.314],
     yMajor: yMajorB, yMinor: yMinorB,
     series: [[wave5, fluxZ05], [wave5, fluxZ02], [wave10, fluxZ004], [wave10, fluxZ0004]]}
];

const axisColor = "#3a3a3a";
const fontFamily = '"Liberation Sans", Arial, Helvetica, sans-serif';

function styleAxis(sel) {
    sel.attr("font-size", 21.5).attr("font-family", fontFamily);
    sel.selectAll(".domain").attr("stroke", axisColor).attr("stroke-width", 1.1);
    sel.selectAll(".tick line").attr("stroke", axisColor).attr("stroke-width", 1.1);
    sel.selectAll(".tick text").attr("fill", "#000");
}

panels.forEach(p => {
    const y = d3.scaleLinear().domain(p.yDomain).range([p.bottom, p.top]);
    const g = svg.append("g").attr("id", "panel_" + p.id);

    g.append("clipPath")
        .attr("id", "clip_" + p.id)
        .append("rect")
        .attr("x", left)
        .attr("y", p.top)
        .attr("width", right - left)
        .attr("height", p.bottom - p.top);

    const line = d3.line()
        .x(d => x(d[0]))
        .y(d => y(d[1]));

    g.append("g")
        .attr("clip-path", `url(#clip_${p.id})`)
        .selectAll("path")
        .data(p.series)
        .join("path")
        .attr("d", ([wave, flux]) => line(flux.map((f, i) => [wave[i], f]).filter(d => d[0] !== undefined)))
        .attr("fill", "none")
        .attr("stroke", "#000")
        .attr("stroke-width", 1.1)
        .attr("stroke-linejoin", "round");

    // bottom axis
    g.append("g").attr("transform", `translate(0,${p.bottom})`)
        .call(d3.axisBottom(x).tickValues(xMajor).tickSize(-11).tickSizeOuter(0)
            .tickPadding(12).tickFormat(d3.format("d")))
        .call(styleAxis);
    g.append("g").attr("transform", `translate(0,${p.bottom})`)
        .call(d3.axisBottom(x).tickValues(xMinor).tickSize(-7.5).tickSizeOuter(0).tickFormat(""))
        .call(styleAxis);

    // top axis
    g.append("g").attr("transform", `translate(0,${p.top})`)
        .call(d3.axisTop(x).tickValues(xMajor).tickSize(-11).tickSizeOuter(0).tickFormat(""))
        .call(styleAxis);
    g.append("g").attr("transform", `translate(0,${p.top})`)
        .call(d3.axisTop(x).tickValues(xMinor).tickSize(-7.5).tickSizeOuter(0).tickFormat(""))
        .call(styleAxis);

    // left axis
    g.append("g").attr("transform", `translate(${left},0)`)
        .call(d3.axisLeft(y).tickValues(p.yMajor).tickSize(-11).tickSizeOuter(0)
            .tickPadding(7).tickFormat(d3.format("d")))
        .call(styleAxis);
    g.append("g").attr("transform", `translate(${left},0)`)
        .call(d3.axisLeft(y).tickValues(p.yMinor).tickSize(-7.5).tickSizeOuter(0).tickFormat(""))
        .call(styleAxis);

    // right axis (falls just outside the picture, only ticks show)
    g.append("g").attr("transform", `translate(${right},0)`)
        .call(d3.axisRight(y).tickValues(p.yMajor).tickSize(-11).tickSizeOuter(0).tickFormat(""))
        .call(styleAxis);
    g.append("g").attr("transform", `translate(${right},0)`)
        .call(d3.axisRight(y).tickValues(p.yMinor).tickSize(-7.5).tickSizeOuter(0).tickFormat(""))
        .call(styleAxis);

    // titles
    g.append("text")
        .attr("x", 558)
        .attr("y", p.top - 25.7)
        .attr("text-anchor", "middle")
        .attr("font-size", 27.3)
        .attr("fill", "#000")
        .text(p.title);

    g.append("text")
        .attr("x", 558)
        .attr("y", p.bottom + 47)
        .attr("text-anchor", "middle")
        .attr("font-size", 21.5)
        .attr("fill", "#000")
        .text("Angstroms");

    g.append("text")
        .attr("transform", `translate(28,${(p.top + p.bottom) / 2 - 38}) rotate(-90)`)
        .attr("text-anchor", "middle")
        .attr("font-size", 21.5)
        .attr("fill", "#000")
        .text("flux [arbitrary units]");
});
</script>
</body>
</html>
